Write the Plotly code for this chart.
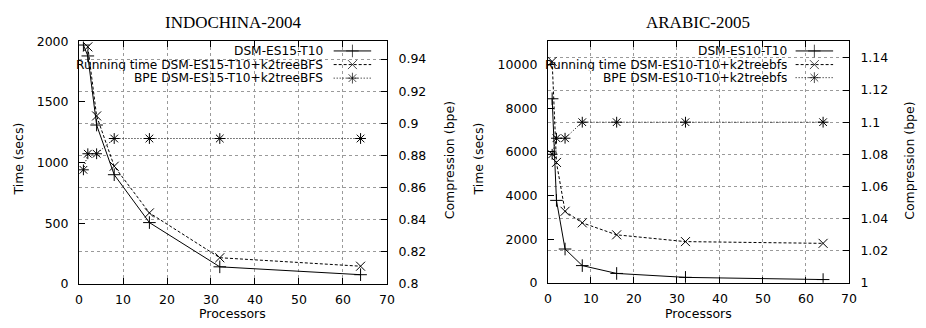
import plotly.graph_objects as go

W, H = 926, 328

# ---------------- data ----------------
processors = [1, 2, 4, 8, 16, 32, 64]
processors_run_indo = [2, 4, 8, 16, 32, 64]

indo_dsm_time = [1970, 1880, 1310, 900, 505, 140, 75]
indo_run_time = [1955, 1385, 970, 585, 215, 145]
indo_bpe = [0.871, 0.881, 0.881, 0.8905, 0.8905, 0.8905, 0.8905]

arab_dsm_time = [8440, 3780, 1550, 790, 430, 250, 150]
arab_run_time = [10150, 5520, 3280, 2750, 2200, 1890, 1810]
arab_bpe = [1.08, 1.09, 1.09, 1.10, 1.10, 1.10, 1.10]

x_ticks = [0, 10, 20, 30, 40, 50, 60, 70]
indo_time_ticks = [0, 500, 1000, 1500, 2000]
indo_time_labels = ["0", "500", "1000", "1500", "2000"]
indo_bpe_ticks = [0.80, 0.82, 0.84, 0.86, 0.88, 0.90, 0.92, 0.94]
indo_bpe_labels = ["0.8", "0.82", "0.84", "0.86", "0.88", "0.9", "0.92", "0.94"]
arab_time_ticks = [0, 2000, 4000, 6000, 8000, 10000]
arab_time_labels = ["0", "2000", "4000", "6000", "8000", "10000"]
arab_bpe_ticks = [1.00, 1.02, 1.04, 1.06, 1.08, 1.10, 1.12, 1.14]
arab_bpe_labels = ["1", "1.02", "1.04", "1.06", "1.08", "1.1", "1.12", "1.14"]

titles = ["INDOCHINA-2004", "ARABIC-2005"]
indo_names = ["DSM-ES15-T10", "Running time DSM-ES15-T10+k2treeBFS", "BPE DSM-ES15-T10+k2treeBFS"]
arab_names = ["DSM-ES10-T10", "Running time DSM-ES10-T10+k2treebfs", "BPE DSM-ES10-T10+k2treebfs"]

# ---------------- layout geometry (pixels) ----------------
def px_x(p):
    return p / W

def px_y(p):
    return 1 - p / H

L = dict(x0=76, x1=388, y0=289, y1=35)
R = dict(x0=551, x1=856, y0=288, y1=34.3)

FONT = "DejaVu Sans, Liberation Sans, Arial, sans-serif"
SERIF = "Liberation Serif, Times New Roman, serif"
GRID = "#9a9a9a"
FS = 12.5
LFS = 12.2

styles = [
    dict(dash="solid", symbol="cross-thin-open"),
    dict(dash="3px,2px", symbol="x-thin-open"),
    dict(dash="1px,2px", symbol="asterisk-open"),
]

fig = go.Figure()

def add_series(x, y, xa, ya, st):
    fig.add_trace(go.Scatter(
        x=x, y=y, xaxis=xa, yaxis=ya, mode="lines+markers",
        line=dict(color="black", width=1, dash=st["dash"]),
        marker=dict(symbol=st["symbol"], size=9, color="black",
                    line=dict(color="black", width=1)),
        showlegend=False, hoverinfo="skip"))

add_series(processors, indo_dsm_time, "x", "y", styles[0])
add_series(processors_run_indo, indo_run_time, "x", "y", styles[1])
add_series(processors, indo_bpe, "x", "y2", styles[2])

add_series(processors, arab_dsm_time, "x2", "y3", styles[0])
add_series(processors, arab_run_time, "x2", "y3", styles[1])
add_series(processors, arab_bpe, "x2", "y4", styles[2])

# legend keys on hidden [0,1] axes
def legend(box, xa, ya, names, text_right, s0, s1, rows):
    w = box["x1"] - box["x0"]
    h = box["y0"] - box["y1"]
    fx0 = (s0 - box["x0"]) / w
    fx1 = (s1 - box["x0"]) / w
    fxc = (fx0 + fx1) / 2
    for name, st, ry in zip(names, styles, rows):
        fy = (box["y0"] - ry) / h
        fig.add_trace(go.Scatter(
            x=[fx0, fxc, fx1], y=[fy, fy, fy], xaxis=xa, yaxis=ya,
            mode="lines+markers",
            line=dict(color="black", width=1, dash=st["dash"]),
            marker=dict(symbol=st["symbol"], size=[0, 9, 0], color="black",
                        line=dict(color="black", width=1)),
            showlegend=False, hoverinfo="skip"))
        fig.add_annotation(x=px_x(text_right), y=px_y(ry), xref="paper", yref="paper",
                           text=name, showarrow=False, xanchor="right", yanchor="middle",
                           borderpad=0, height=12,
                           font=dict(family=FONT, size=LFS, color="black"))

legend(L, "x3", "y5", indo_names, 324, 334, 372, [45, 59.3, 73.5])
legend(R, "x4", "y6", arab_names, 794.5, 802, 840, [45, 59.3, 73])

def xaxis_cfg(box):
    return dict(domain=[px_x(box["x0"]), px_x(box["x1"])], range=[0, 70],
                tickvals=x_ticks, ticks="inside", ticklen=6, tickcolor="black",
                showline=True, linecolor="black", linewidth=1, mirror="ticks",
                showgrid=True, gridcolor=GRID, griddash="dot", gridwidth=1,
                zeroline=False,
                tickfont=dict(family=FONT, size=FS, color="black"),
                ticklabelstandoff=4)

def yleft_cfg(box, rng, ticks, labels, xa):
    return dict(domain=[px_y(box["y0"]), px_y(box["y1"])], range=rng, anchor=xa,
                tickvals=ticks, ticktext=labels, ticks="inside", ticklen=6, tickcolor="black",
                showline=True, linecolor="black", linewidth=1, mirror=False,
                showgrid=False, zeroline=False,
                tickfont=dict(family=FONT, size=FS, color="black"),
                ticklabelstandoff=7)

def yright_cfg(rng, ticks, labels, base, xa):
    return dict(overlaying=base, side="right", anchor=xa, range=rng,
                tickvals=ticks, ticktext=labels, ticks="inside", ticklen=6, tickcolor="black",
                showline=True, linecolor="black", linewidth=1,
                showgrid=True, gridcolor=GRID, griddash="dot", gridwidth=1,
                zeroline=False,
                tickfont=dict(family=FONT, size=FS, color="black"),
                ticklabelstandoff=8)

hidden = dict(range=[0, 1], visible=False, showgrid=False, zeroline=False, fixedrange=True)

fig.update_layout(
    width=W, height=H,
    margin=dict(l=0, r=0, t=0, b=0),
    paper_bgcolor="white", plot_bgcolor="white",
    showlegend=False,
    xaxis=dict(**xaxis_cfg(L), anchor="y"),
    yaxis=yleft_cfg(L, [0, 2000], indo_time_ticks, indo_time_labels, "x"),
    yaxis2=yright_cfg([0.8, 0.951], indo_bpe_ticks, indo_bpe_labels, "y", "x"),
    xaxis2=dict(**xaxis_cfg(R), anchor="y3"),
    yaxis3=yleft_cfg(R, [0, 11100], arab_time_ticks, arab_time_labels, "x2"),
    yaxis4=yright_cfg([1.0, 1.1507], arab_bpe_ticks, arab_bpe_labels, "y3", "x2"),
    xaxis3=dict(overlaying="x", anchor="y5", **hidden),
    yaxis5=dict(overlaying="y", anchor="x3", **hidden),
    xaxis4=dict(overlaying="x2", anchor="y6", **hidden),
    yaxis6=dict(overlaying="y3", anchor="x4", **hidden),
)

def text(x, y, s, size=FS, family=FONT, angle=0, yanchor="middle"):
    fig.add_annotation(x=px_x(x), y=px_y(y), xref="paper", yref="paper", text=s,
                       showarrow=False, xanchor="center", yanchor=yanchor, textangle=angle,
                       borderpad=0, font=dict(family=family, size=size, color="black"))

text(232, 15, titles[0], size=17, family=SERIF)
text(703, 15, titles[1], size=17, family=SERIF)
text(232, 320.5, "Processors")
text(703.5, 320.5, "Processors")
text(15, 158, "Time (secs)", angle=-90)
text(481, 158, "Time (secs)", angle=-90)
text(451.5, 160, "Compression (bpe)", angle=-90)
text(918, 160, "Compression (bpe)", angle=-90)

fig.write_html("out.html", config={"displayModeBar": False},
               post_script="document.body.style.margin='0';document.body.style.padding='0';document.body.style.overflow='hidden';")
